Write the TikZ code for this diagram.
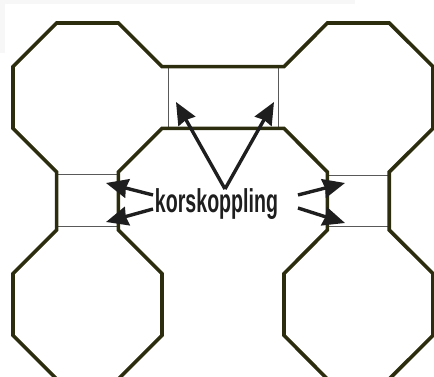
\documentclass[tikz,border=0pt]{standalone}
\usepackage{fontspec}
\setmainfont{Liberation Sans}
\usepackage{xcolor}
\usetikzlibrary{arrows.meta}
\definecolor{olivedark}{RGB}{44,44,14}
\definecolor{inkgray}{RGB}{30,30,30}

\begin{document}
\begin{tikzpicture}[x=1pt,y=-1pt,
  outline/.style={draw=olivedark,line width=3.6pt,line join=miter},
  bridge/.style={draw=black!65,line width=0.9pt},
  pointer/.style={draw=inkgray,line width=3.4pt,-{Stealth[length=22pt,width=19pt,inset=1.5pt]}},
  lab/.style={font=\bfseries\fontsize{33}{33}\selectfont,text=inkgray,inner sep=0pt,xscale=0.594}]
\useasboundingbox (0,0) rectangle (434,377);
\clip (0,0) rectangle (434,377);
\fill[gray!6] (0,0) rectangle (355,4);
\fill[gray!6] (0,0) rectangle (5,53);
% thin ends of the three couplings
\draw[bridge] (168,66.6) rectangle (278,128.4);
\draw[bridge] (56.6,174) rectangle (118.4,226);
\draw[bridge] (327.4,175) rectangle (389.2,226);
% outline of the four octagons joined by the couplings
\draw[outline] (56.6,23) -- (118.4,23) -- (162,66.6) -- (284,66.6) -- (327.4,23) -- (389.2,23)
  -- (433,66.6) -- (433,128.4) -- (389.2,172) -- (389.2,230) -- (433,273.6) -- (433,335.4)
  -- (389.2,379) -- (327.4,379) -- (284,335.4) -- (284,273.6) -- (327.4,230) -- (327.4,172)
  -- (284,128.4) -- (162,128.4) -- (118.4,172) -- (118.4,230) -- (162,273.6) -- (162,335.4)
  -- (118.4,379) -- (56.6,379) -- (13,335.4) -- (13,273.6) -- (56.6,230) -- (56.6,172)
  -- (13,128.4) -- (13,66.6) -- cycle;
\node[lab,anchor=base] (kk) at (216.5,212) {korskoppling};
\coordinate (apex) at (225,189);
\coordinate (tl) at (176,102);
\coordinate (tr) at (274,102);
\coordinate (lu) at (106,183);
\coordinate (ld) at (106,222);
\coordinate (ru) at (345,183);
\coordinate (rd) at (345,223);
\coordinate (lut) at (153,195);
\coordinate (ldt) at (153,209);
\coordinate (rut) at (298,195);
\coordinate (rdt) at (298,208);
\draw[pointer] (apex) -- (tl);
\draw[pointer] (apex) -- (tr);
\draw[pointer] (lut) -- (lu);
\draw[pointer] (ldt) -- (ld);
\draw[pointer] (rut) -- (ru);
\draw[pointer] (rdt) -- (rd);
\end{tikzpicture}
\end{document}
